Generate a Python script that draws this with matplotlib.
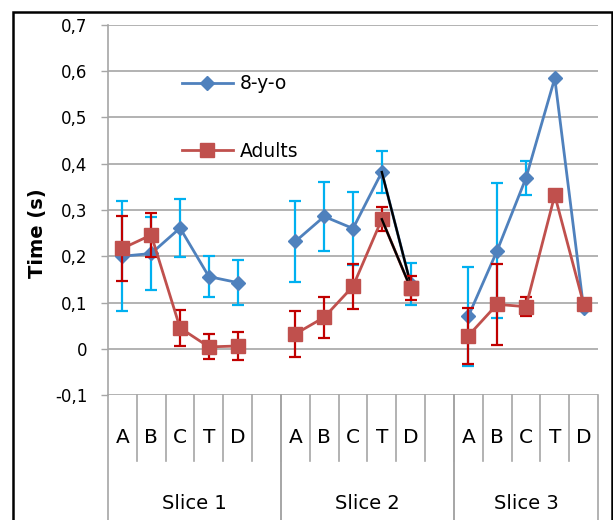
import numpy as np
import matplotlib
matplotlib.use("Agg")
import matplotlib.pyplot as plt
from matplotlib.patches import Rectangle

plt.rcParams['font.family'] = ['DejaVu Sans']

nan = np.nan

# category slots (blank slot separates the slices)
categories = ['A', 'B', 'C', 'T', 'D', '',
              'A', 'B', 'C', 'T', 'D', '',
              'A', 'B', 'C', 'T', 'D']
slices = ['Slice 1', 'Slice 2', 'Slice 3']
slice_bounds = [(-0.5, 5.5), (5.5, 11.5), (11.5, 16.5)]

kids = [0.200, 0.206, 0.261, 0.156, 0.143, nan,
        0.232, 0.286, 0.260, 0.382, 0.140, nan,
        0.070, 0.212, 0.369, 0.585, 0.088]
kids_err = [0.119, 0.078, 0.063, 0.044, 0.048, nan,
            0.087, 0.074, 0.078, 0.045, 0.045, nan,
            0.107, 0.146, 0.036, nan, nan]

adults = [0.217, 0.246, 0.045, 0.004, 0.006, nan,
          0.032, 0.068, 0.135, 0.280, 0.131, nan,
          0.028, 0.096, 0.091, 0.332, 0.097]
adults_err = [0.071, 0.048, 0.039, 0.027, 0.030, nan,
              0.050, 0.044, 0.048, 0.026, 0.026, nan,
              0.061, 0.087, 0.020, nan, nan]

yticks = [-0.1, 0, 0.1, 0.2, 0.3, 0.4, 0.5, 0.6, 0.7]
ytick_labels = ['-0,1', '0', '0,1', '0,2', '0,3', '0,4', '0,5', '0,6', '0,7']

BLUE = '#4F81BD'
CYAN = '#00B0F0'
RED = '#C0504D'
DARKRED = '#C00000'
GRID = '#A6A6A6'

x = np.arange(len(categories))

fig = plt.figure(figsize=(6.13, 5.2), dpi=100)
ax = fig.add_axes([108/613, 1-395/520, 490/613, 370/520])

ax.errorbar(x, kids, yerr=kids_err, fmt='none', ecolor=CYAN, elinewidth=1.6,
            capsize=4.3, capthick=1.6, zorder=2)
l_kids, = ax.plot(x, kids, color=BLUE, lw=2.0, marker='D', ms=7,
                  label='8-y-o', zorder=3)
ax.errorbar(x, adults, yerr=adults_err, fmt='none', ecolor=DARKRED, elinewidth=1.6,
            capsize=4.3, capthick=1.6, zorder=4)
l_adults, = ax.plot(x, adults, color=RED, lw=2.0, marker='s', ms=10,
                    label='Adults', zorder=5)

# slice 2, T -> D segments drawn in black
ax.plot(x[9:11], kids[9:11], color='black', lw=1.7, zorder=3.5)
ax.plot(x[9:11], adults[9:11], color='black', lw=1.7, zorder=5.5)
ax.plot(x[10], adults[10], color=RED, marker='s', ms=10, zorder=6)

ax.set_xlim(-0.5, len(categories) - 0.5)
ax.set_ylim(-0.1, 0.7)
ax.set_yticks(yticks)
ax.set_yticklabels(ytick_labels, fontsize=12)
ax.set_xticks([])
ax.tick_params(axis='y', length=5, width=1, color=GRID, pad=10)
ax.yaxis.grid(True, color=GRID, lw=1.2)
ax.set_axisbelow(True)
for s in ['top', 'right', 'bottom']:
    ax.spines[s].set_visible(False)
ax.spines['left'].set_color(GRID)
ax.spines['left'].set_linewidth(1.2)

ax.set_ylabel('Time (s)', fontsize=14, fontweight='bold')
ax.yaxis.set_label_coords(-0.124, 0.436)

# multi-level category axis
tr = ax.get_xaxis_transform()
for i, lab in enumerate(categories):
    ax.text(i, -0.116, lab, transform=tr, ha='center', va='center', fontsize=14.5)
for b in np.arange(0.5, len(categories) - 1, 1.0):
    ax.plot([b, b], [0, -0.178], transform=tr, color=GRID, lw=1.2, clip_on=False)
for (lo, hi), name in zip(slice_bounds, slices):
    ax.text((lo + hi) / 2, -0.292, name, transform=tr, ha='center', va='center', fontsize=14)
    for b in (lo, hi):
        ax.plot([b, b], [0, -0.4], transform=tr, color=GRID, lw=1.2, clip_on=False)

ax.legend(handles=[l_kids, l_adults], loc='upper left', bbox_to_anchor=(0.151, 0.867),
          frameon=False, fontsize=13.5, handlelength=2.7, handletextpad=0.37,
          labelspacing=2.6, borderpad=0, borderaxespad=0)

fig.add_artist(Rectangle((13/613, -0.1), (612-13)/613, 1.1 - 12/520, transform=fig.transFigure,
                         fill=False, edgecolor='black', lw=1.8))

fig.savefig('out.png', dpi=100)
